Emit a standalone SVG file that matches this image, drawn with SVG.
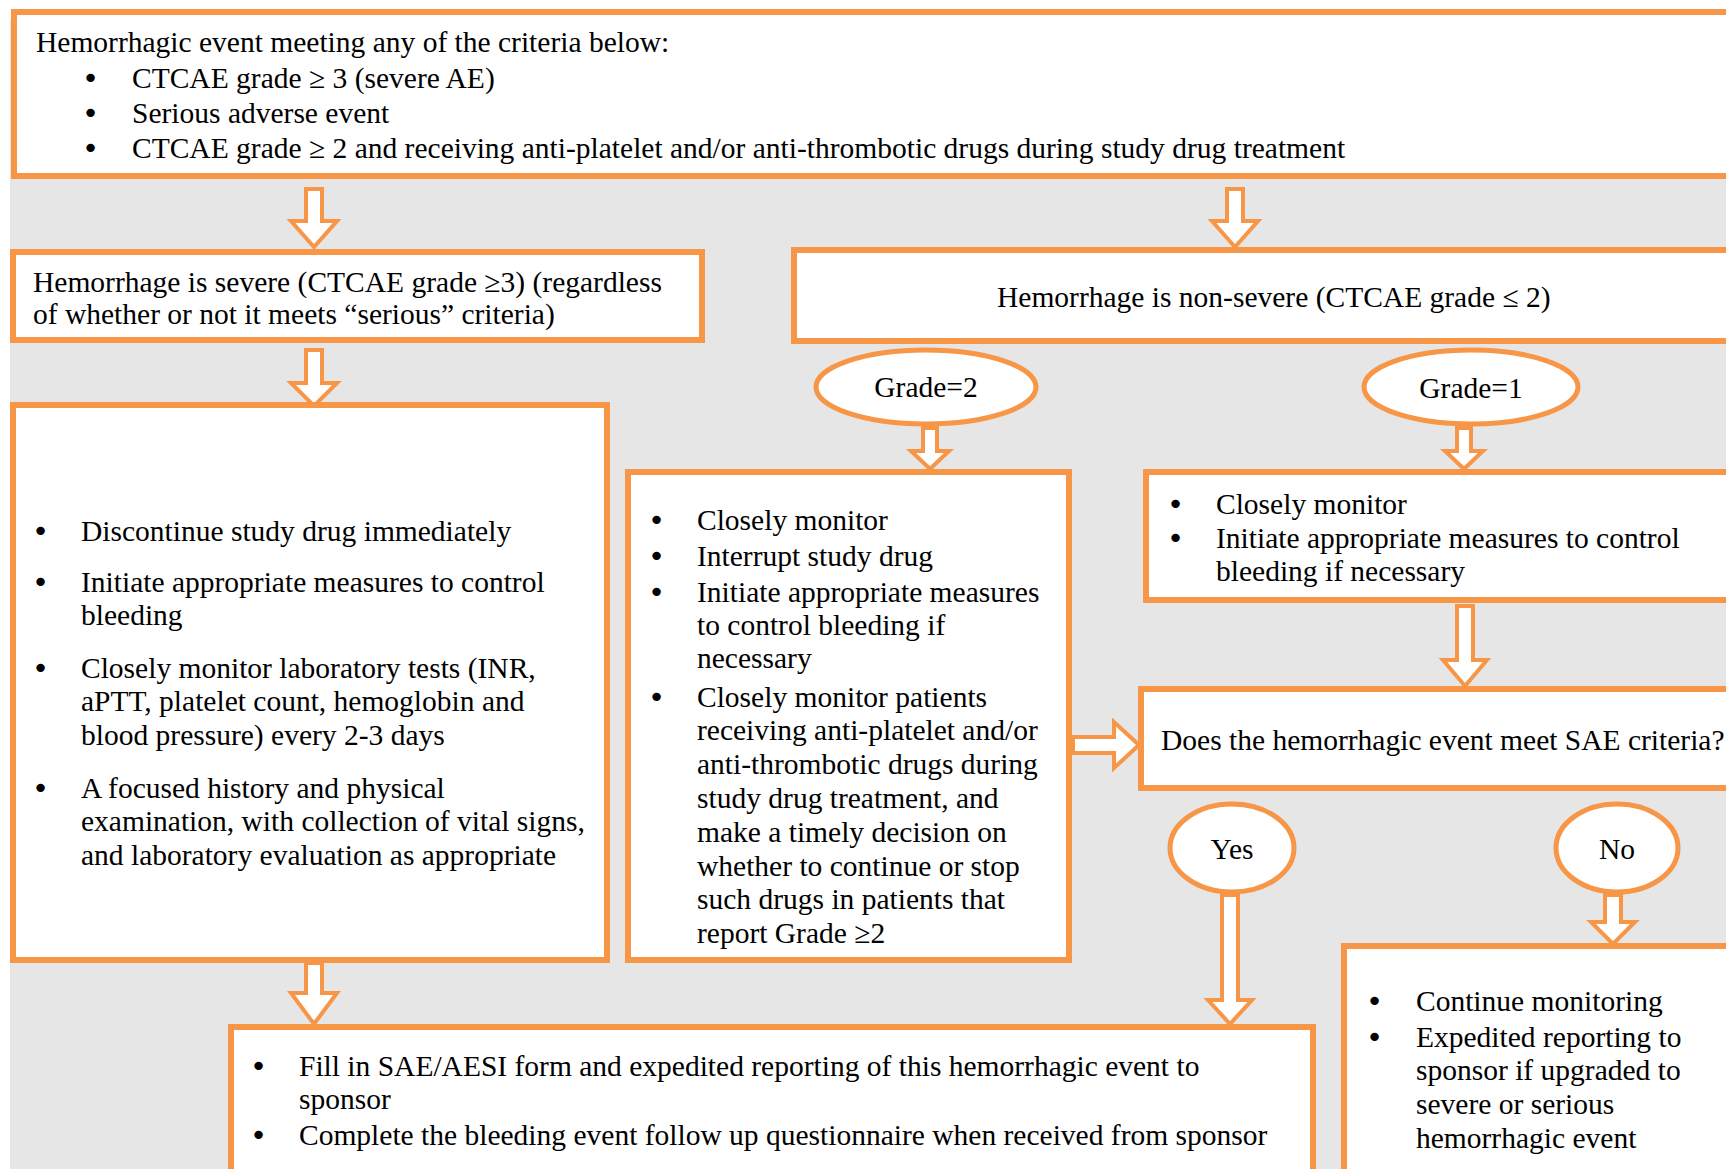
<svg xmlns="http://www.w3.org/2000/svg" width="1726" height="1169" viewBox="0 0 1726 1169">
<style>
.bg{fill:#e6e6e6}
.box{fill:#fff;stroke:#f79646;stroke-width:6}
.ell{fill:#fff;stroke:#f79646;stroke-width:5}
.arr{fill:#fff;stroke:#f79646;stroke-width:4;stroke-linejoin:miter}
text{font-family:"Liberation Serif","Times New Roman",serif;font-size:29.5px;fill:#000}
.c{text-anchor:middle}
.b{font-family:"DejaVu Sans",sans-serif;font-size:29px}
</style>
<rect x="0" y="0" width="1726" height="1169" fill="#fff"/>
<rect class="bg" x="10" y="20" width="1716" height="1149"/>

<g id="connectors">
<path class="arr" d="M306,189 L322,189 L322,221 L337,221 L314,247 L291,221 L306,221 Z"/>
<path class="arr" d="M1227,189 L1243,189 L1243,221 L1258,221 L1235,247 L1212,221 L1227,221 Z"/>
<path class="arr" d="M306,350 L322,350 L322,383 L337,383 L314,406 L291,383 L306,383 Z"/>
<path class="arr" d="M923,428 L937,428 L937,451 L949,451 L930,469 L911,451 L923,451 Z"/>
<path class="arr" d="M1457,428 L1471,428 L1471,451 L1483,451 L1464,469 L1445,451 L1457,451 Z"/>
<path class="arr" d="M1457,606 L1473,606 L1473,660 L1487,660 L1465,686 L1443,660 L1457,660 Z"/>
<path class="arr" d="M1073,737 L1114,737 L1114,722 L1139,745 L1114,768 L1114,753 L1073,753 Z"/>
<path class="arr" d="M1222,895 L1238,895 L1238,1000 L1252,1000 L1230,1024 L1208,1000 L1222,1000 Z"/>
<path class="arr" d="M1605,895 L1621,895 L1621,922 L1635,922 L1613,944 L1591,922 L1605,922 Z"/>
<path class="arr" d="M306,963 L322,963 L322,993 L337,993 L314,1024 L291,993 L306,993 Z"/>
</g>

<g id="top">
<rect class="box" x="14" y="12" width="1730" height="164"/>
<text x="36" y="52">Hemorrhagic event meeting any of the criteria below:</text>
<text class="b" x="82" y="88">•</text><text x="132" y="88">CTCAE grade ≥ 3 (severe AE)</text>
<text class="b" x="82" y="123">•</text><text x="132" y="123">Serious adverse event</text>
<text class="b" x="82" y="158">•</text><text x="132" y="158">CTCAE grade ≥ 2 and receiving anti-platelet and/or anti-thrombotic drugs during study drug treatment</text>
</g>

<g id="severe">
<rect class="box" x="13" y="252" width="689" height="88"/>
<text x="33" y="292">Hemorrhage is severe (CTCAE grade ≥3) (regardless</text>
<text x="33" y="324">of whether or not it meets “serious” criteria)</text>
</g>

<g id="nonsevere">
<rect class="box" x="794" y="250" width="950" height="91"/>
<text x="997" y="307">Hemorrhage is non-severe (CTCAE grade ≤ 2)</text>
</g>

<g id="severe-actions">
<rect class="box" x="13" y="405" width="594" height="555"/>
<text class="b" x="32" y="541">•</text><text x="81" y="541">Discontinue study drug immediately</text>
<text class="b" x="32" y="592">•</text><text x="81" y="592">Initiate appropriate measures to control</text>
<text x="81" y="625">bleeding</text>
<text class="b" x="32" y="678">•</text><text x="81" y="678">Closely monitor laboratory tests (INR,</text>
<text x="81" y="711">aPTT, platelet count, hemoglobin and</text>
<text x="81" y="745">blood pressure) every 2-3 days</text>
<text class="b" x="32" y="798">•</text><text x="81" y="798">A focused history and physical</text>
<text x="81" y="831">examination, with collection of vital signs,</text>
<text x="81" y="865">and laboratory evaluation as appropriate</text>
</g>

<g id="grade2">
<ellipse class="ell" cx="926" cy="387" rx="110" ry="37"/>
<text class="c" x="926" y="397">Grade=2</text>
</g>

<g id="grade1">
<ellipse class="ell" cx="1471" cy="387" rx="107" ry="37"/>
<text class="c" x="1471" y="398">Grade=1</text>
</g>

<g id="grade2-actions">
<rect class="box" x="628" y="472" width="441" height="488"/>
<text class="b" x="648" y="530">•</text><text x="697" y="530">Closely monitor</text>
<text class="b" x="648" y="566">•</text><text x="697" y="566">Interrupt study drug</text>
<text class="b" x="648" y="602">•</text><text x="697" y="602">Initiate appropriate measures</text>
<text x="697" y="635">to control bleeding if</text>
<text x="697" y="668">necessary</text>
<text class="b" x="648" y="707">•</text><text x="697" y="707">Closely monitor patients</text>
<text x="697" y="740">receiving anti-platelet and/or</text>
<text x="697" y="774">anti-thrombotic drugs during</text>
<text x="697" y="808">study drug treatment, and</text>
<text x="697" y="842">make a timely decision on</text>
<text x="697" y="876">whether to continue or stop</text>
<text x="697" y="909">such drugs in patients that</text>
<text x="697" y="943">report Grade ≥2</text>
</g>

<g id="grade1-actions">
<rect class="box" x="1146" y="472" width="600" height="128"/>
<text class="b" x="1167" y="514">•</text><text x="1216" y="514">Closely monitor</text>
<text class="b" x="1167" y="548">•</text><text x="1216" y="548">Initiate appropriate measures to control</text>
<text x="1216" y="581">bleeding if necessary</text>
</g>

<g id="sae">
<rect class="box" x="1141" y="689" width="600" height="99"/>
<text x="1161" y="750">Does the hemorrhagic event meet SAE criteria?</text>
</g>

<g id="yes">
<ellipse class="ell" cx="1232" cy="848" rx="62" ry="44"/>
<text class="c" x="1232" y="859">Yes</text>
</g>

<g id="no">
<ellipse class="ell" cx="1617" cy="848" rx="61" ry="44"/>
<text class="c" x="1617" y="859">No</text>
</g>

<g id="report">
<rect class="box" x="231" y="1027" width="1082" height="170"/>
<text class="b" x="250" y="1076">•</text><text x="299" y="1076">Fill in SAE/AESI form and expedited reporting of this hemorrhagic event to</text>
<text x="299" y="1109">sponsor</text>
<text class="b" x="250" y="1145">•</text><text x="299" y="1145">Complete the bleeding event follow up questionnaire when received from sponsor</text>
</g>

<g id="continue">
<rect class="box" x="1344" y="946" width="400" height="250"/>
<text class="b" x="1366" y="1011">•</text><text x="1416" y="1011">Continue monitoring</text>
<text class="b" x="1366" y="1047">•</text><text x="1416" y="1047">Expedited reporting to</text>
<text x="1416" y="1080">sponsor if upgraded to</text>
<text x="1416" y="1114">severe or serious</text>
<text x="1416" y="1148">hemorrhagic event</text>
</g>
</svg>
